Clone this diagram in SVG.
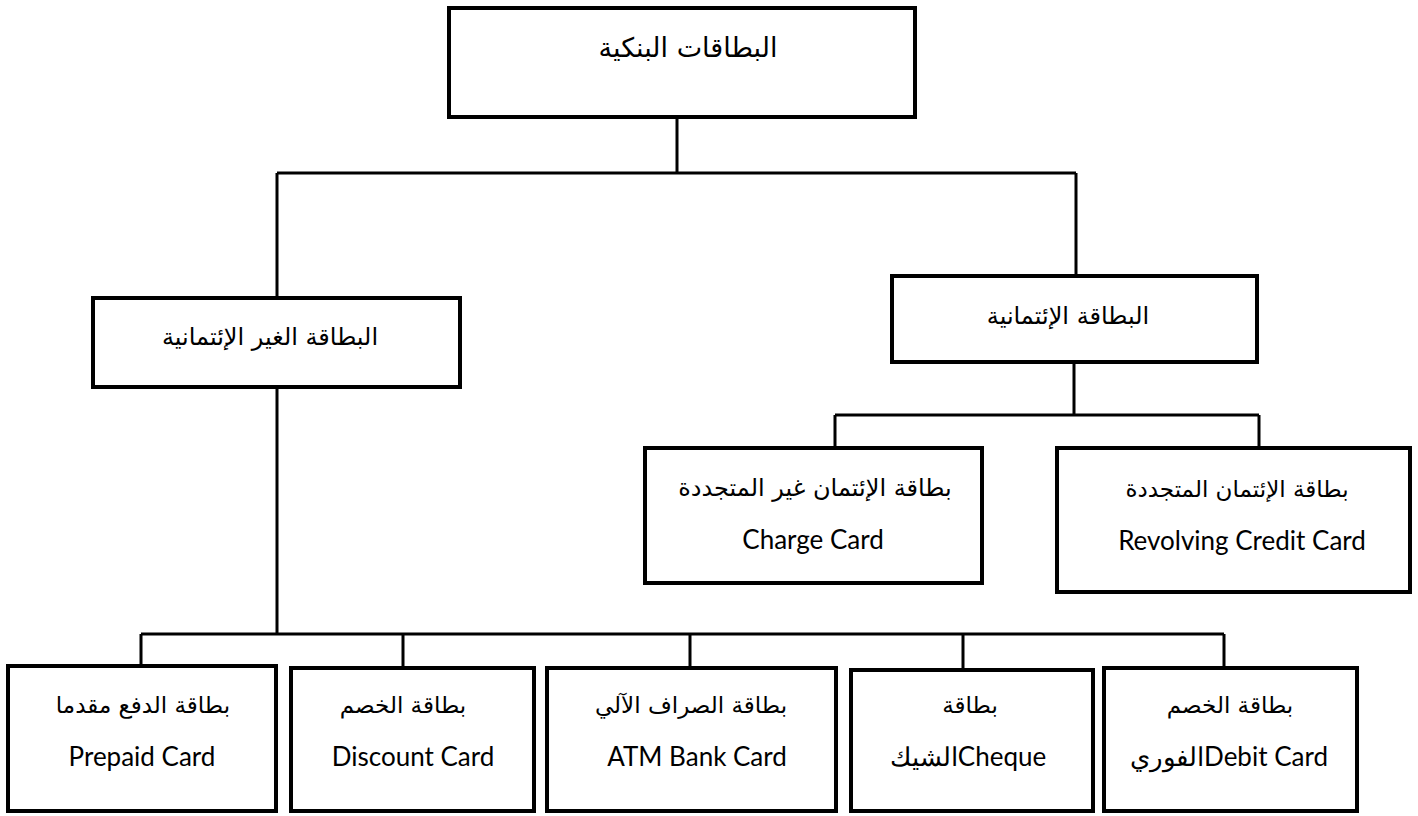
<svg xmlns="http://www.w3.org/2000/svg" width="1418" height="816" viewBox="0 0 1418 816">
<style>
.box{fill:#fff;stroke:#000;stroke-width:4}
.con{fill:none;stroke:#000;stroke-width:3}
.ar{font-family:"DejaVu Sans",sans-serif;font-size:23px;fill:#000;text-anchor:middle}
.mid{font-size:24px}
.en{font-family:Lato,"Liberation Sans",sans-serif;font-size:26px;fill:#000;text-anchor:middle}
</style>
<rect width="1418" height="816" fill="#fff"/>
<g id="connectors">
<path class="con" d="M677 117V173M277 173H1076M277 173V298M1076 173V276"/>
<path class="con" d="M1074 362V415M835 415H1259M835 415V448M1259 415V448"/>
<path class="con" d="M277 387V634M141 634H1224M141 634V666M403 634V668M690 634V668M963 634V670M1224 634V668"/>
</g>
<g id="root"><rect class="box" x="449" y="8" width="466" height="109"/><text class="ar" x="688" y="57" style="font-size:27px">البطاقات البنكية</text></g>
<g id="noncredit"><rect class="box" x="93" y="298" width="367" height="89"/><text class="ar mid" x="270" y="345">البطاقة الغير الإئتمانية</text></g>
<g id="credit"><rect class="box" x="892" y="276" width="365" height="86"/><text class="ar mid" x="1068" y="324">البطاقة الإئتمانية</text></g>
<g id="charge"><rect class="box" x="645" y="448" width="337" height="135"/><text class="ar mid" x="815" y="496">بطاقة الإئتمان غير المتجددة</text><text class="en" x="813" y="549">Charge Card</text></g>
<g id="revolving"><rect class="box" x="1057" y="448" width="353" height="144"/><text class="ar" x="1237" y="497">بطاقة الإئتمان المتجددة</text><text class="en" x="1242" y="550">Revolving Credit Card</text></g>
<g id="prepaid"><rect class="box" x="8" y="666" width="268" height="145"/><text class="ar" x="143" y="713">بطاقة الدفع مقدما</text><text class="en" x="142" y="766">Prepaid Card</text></g>
<g id="discount"><rect class="box" x="291" y="668" width="243" height="143"/><text class="ar" x="403" y="713">بطاقة الخصم</text><text class="en" x="413" y="766">Discount Card</text></g>
<g id="atm"><rect class="box" x="547" y="668" width="289" height="143"/><text class="ar" x="691" y="713">بطاقة الصراف الآلي</text><text class="en" x="697" y="766">ATM Bank Card</text></g>
<g id="cheque"><rect class="box" x="851" y="670" width="242" height="141"/><text class="ar" x="970" y="713">بطاقة</text><text class="en" x="968" y="766">الشيكCheque</text></g>
<g id="debit"><rect class="box" x="1104" y="668" width="253" height="143"/><text class="ar" x="1230" y="713">بطاقة الخصم</text><text class="en" x="1229" y="766">الفوريDebit Card</text></g>
</svg>
